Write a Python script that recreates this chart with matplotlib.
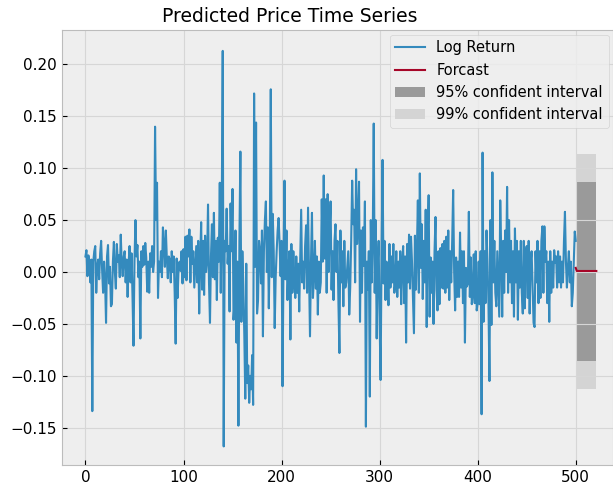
import matplotlib
matplotlib.use('Agg')
import matplotlib.pyplot as plt
import numpy as np

# log returns, in thousandths
log_ret_milli = [
    15, 21, -4, 16, 7, -10, 12, -134, 10, 20,
    25, -20, 5, 12, -7, 18, 30, 2, -20, 10,
    -8, -49, 15, 26, -11, 5, -33, -31, 10, 29,
    0, -16, 27, 10, 16, -5, 36, 8, -4, 15,
    20, -10, 12, -24, 8, 25, -10, 18, -24, -71,
    10, 50, 15, 26, -5, 10, -64, 20, 5, 25,
    7, 28, 14, -19, 10, -20, 18, 5, 25, 0,
    10, 140, 50, 86, -25, 10, 0, 20, -5, 43,
    26, 5, 40, 13, -6, 15, 12, -10, 20, 0,
    15, -20, -69, 13, -25, 5, 10, 1, 20, -11,
    22, -5, 34, -8, 35, 15, 41, -10, 34, 8,
    20, -15, 5, 25, -10, 30, -40, 10, 48, -17,
    30, -22, 35, 0, 10, 65, -10, -49, 15, 46,
    -5, 57, -7, 30, -27, 33, 10, 86, -20, 60,
    213, -168, 30, 20, 61, 8, 25, -38, 66, 20,
    80, -46, -30, 40, -68, 10, -148, 30, 116, -48,
    20, -13, -60, -122, 8, -107, -90, -126, -100, -113,
    -80, -128, 172, 5, 144, -40, -27, 30, 20, -11,
    40, -62, 20, 50, 68, 0, 43, -35, 30, 176,
    -5, 56, 20, -54, -5, 20, 40, 52, 27, -4,
    30, -110, 10, 88, -7, 40, -27, 1, 20, -65,
    27, -20, 20, -5, -25, 15, -20, 8, -38, 10,
    60, -10, 10, -16, 25, 45, -20, 62, 0, -62,
    10, 57, -25, -4, 30, -16, 15, -41, 10, -20,
    -10, 70, 10, 93, 13, 70, -20, 75, 0, 40,
    68, -17, 20, -27, 30, 46, 0, 30, -30, -78,
    40, -10, 20, -33, 30, -15, -10, 5, 20, -41,
    -15, 30, 88, 46, 60, -10, 99, 27, 50, 87,
    -48, 40, -20, 43, 6, 68, -149, 10, -17, 20,
    -120, 50, -10, 35, 143, -20, 50, -64, 6, 30,
    -48, -104, 20, 108, -11, 30, -27, 10, 4, -32,
    27, -15, 15, -10, 27, -20, -11, 20, -24, 10,
    -15, 20, -31, 10, 25, -30, 15, -68, 27, -10,
    36, -16, 34, 10, -24, -59, 35, -17, 20, 69,
    -20, 95, 4, 46, -26, 30, -10, 60, -53, 34,
    74, -43, 14, -20, 10, -50, 20, 53, -17, -37,
    20, -31, 23, -15, 27, -16, 30, -20, 34, -15,
    40, -27, 20, -10, 30, 79, 0, -37, 14, -24,
    10, -24, 38, -15, 20, -30, 20, -68, 4, -14,
    -11, 58, -24, 14, -31, -20, 17, -30, 20, -37,
    -30, 10, -31, 20, -137, 115, -48, 20, -30, 40,
    10, -30, -105, 50, -51, 96, -10, 30, -20, -33,
    20, -10, -43, 69, 20, -43, 30, -20, 40, 0,
    82, -20, 50, -10, 30, -30, 20, -43, 42, -10,
    30, -46, 20, -15, 30, -20, -40, 30, -35, 20,
    25, -25, 30, -40, 10, 20, -15, -49, -53, 20,
    -10, 30, -30, 20, -25, 30, 44, -20, 44, 10,
    20, -30, 10, -48, 20, -20, 10, -15, 21, 9,
    15, -15, 20, -10, 15, -15, 10, -10, 30, 58,
    10, -15, 5, 20, -10, 10, -33, -20, 10, 39,
    30,
]

# forecast and confidence bands after the last observation
fc_start = 500
forecast_milli = [4, 1, 1, 1, 1, 1, 1, 1, 1, 1, 1,
                  1, 1, 1, 1, 1, 1, 1, 1, 1, 1, 1]
upper95 = [0.087] * 22
lower95 = [-0.086] * 22
upper99 = [0.114] * 22
lower99 = [-0.113] * 22

plt.style.use('bmh')
plt.rcParams['grid.linestyle'] = '-'
plt.rcParams['grid.color'] = '#d6d6d6'
plt.rcParams['grid.linewidth'] = 0.8

log_ret = np.array(log_ret_milli) / 1000
forecast = np.array(forecast_milli) / 1000
t = np.arange(len(log_ret))
t_fc = np.arange(fc_start, fc_start + len(forecast))

fig = plt.figure(figsize=(6.13, 4.86), dpi=100)
ax = fig.add_axes([0.101, 0.043, 0.899, 0.895])

ax.plot(t, log_ret, color='#348ABD', lw=1.5, label='Log Return')
ax.plot(t_fc, forecast, color='#A60628', lw=1.5, label='Forcast')
ax.fill_between(t_fc, lower99, upper99, color='#d4d4d4', lw=0,
                label='99% confident interval', zorder=1)
ax.fill_between(t_fc, lower95, upper95, color='#9a9a9a', lw=0,
                label='95% confident interval', zorder=1.5)

ax.set_xlim(-24, 538)
ax.set_ylim(-0.186, 0.233)
ax.set_xticks([0, 100, 200, 300, 400, 500])
ax.set_yticks([-0.15, -0.10, -0.05, 0.00, 0.05, 0.10, 0.15, 0.20])
ax.tick_params(labelsize=11)
ax.set_title('Predicted Price Time Series', fontsize=13.5, x=0.414)

h, l = ax.get_legend_handles_labels()
order = [0, 1, 3, 2]
ax.legend([h[i] for i in order], [l[i] for i in order], loc='upper right',
          fontsize=10.5, borderaxespad=0.3)

fig.savefig('out.png', dpi=100)
